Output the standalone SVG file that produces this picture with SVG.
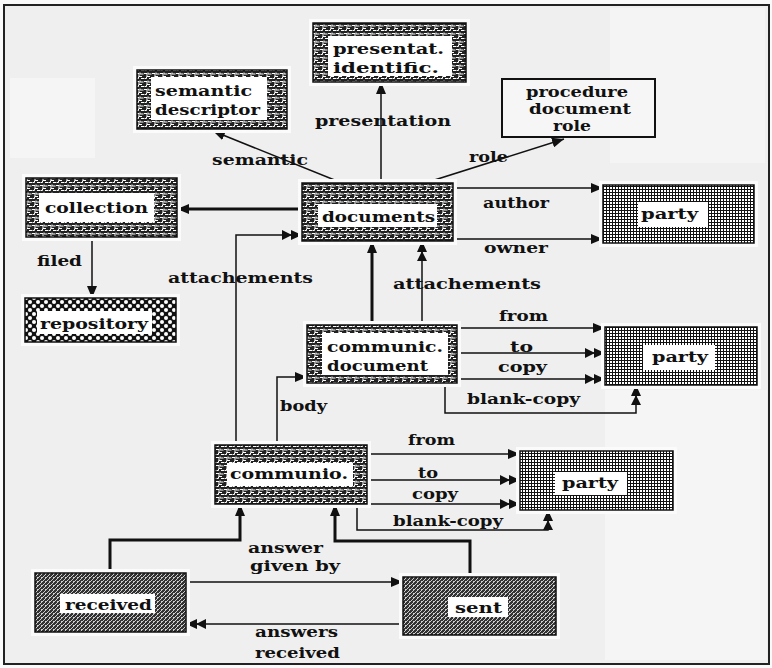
<svg xmlns="http://www.w3.org/2000/svg" width="772" height="668" viewBox="0 0 772 668">
  <style>
    .lbl { font-family: "DejaVu Serif", "Liberation Serif", serif; font-weight: bold; font-size: 15px; fill: #111; }
    .halo { fill: #fbfbfb; }
    .box { stroke: #111; stroke-width: 1.5; }
    .inner { fill: #fff; }
    .plain { fill: #f6f6f6; stroke: #111; stroke-width: 2; }
    .ln { fill: none; stroke: #111; stroke-width: 1.5; }
    .thick { fill: none; stroke: #111; stroke-width: 3; }
  </style>
  <defs>
    <!-- fret / maze texture -->
    <pattern id="maze" width="8" height="8" patternUnits="userSpaceOnUse">
      <rect width="8" height="8" fill="#222"/>
      <path d="M0 1.5h3v3h3M4 0.5v1.5h3.5M0.5 6.5h2v-2M5 6.5h3" stroke="#fff" stroke-width="1" fill="none"/>
    </pattern>
    <!-- mesh texture for party -->
    <pattern id="grid" width="3" height="3" patternUnits="userSpaceOnUse">
      <rect width="3" height="3" fill="#111"/>
      <rect x="1" y="1" width="2" height="2" fill="#fff"/>
    </pattern>
    <!-- dotted texture for repository -->
    <pattern id="dots" width="8" height="8" patternUnits="userSpaceOnUse">
      <rect width="8" height="8" fill="#111"/>
      <circle cx="2" cy="2" r="2" fill="#fff"/>
      <circle cx="6" cy="6" r="2" fill="#fff"/>
    </pattern>
    <!-- hatched texture for received / sent -->
    <pattern id="hatch" width="4" height="4" patternUnits="userSpaceOnUse">
      <rect width="4" height="4" fill="#333"/>
      <path d="M0 4L4 0M1 1.5h1" stroke="#e0e0e0" stroke-width="0.9"/>
    </pattern>
    <marker id="arr" viewBox="0 0 12 10" refX="12" refY="5" markerWidth="12" markerHeight="10" markerUnits="userSpaceOnUse" orient="auto">
      <path d="M0,0 L12,5 L0,10 z" fill="#111"/>
    </marker>
    <marker id="arr2" viewBox="0 0 20 10" refX="20" refY="5" markerWidth="20" markerHeight="10" markerUnits="userSpaceOnUse" orient="auto">
      <path d="M0,0 L10,5 L0,10 z M9,0 L20,5 L9,10 z" fill="#111"/>
    </marker>
  </defs>

  <!-- sheet and frame -->
  <rect width="772" height="668" fill="#fafafa"/>
  <rect x="4" y="5" width="765" height="659" fill="#efefef" stroke="#222" stroke-width="2"/>
  <rect x="610" y="8" width="155" height="155" fill="#f4f4f4"/>
  <rect x="605" y="390" width="162" height="270" fill="#f5f5f5"/>
  <rect x="10" y="78" width="85" height="80" fill="#f5f5f5"/>

  <g id="connectors">
    <path class="ln" d="M381,183 V82" marker-end="url(#arr)"/>
    <path class="ln" d="M342,183 L213,131" marker-end="url(#arr)"/>
    <path class="ln" d="M425,183 L564,139" marker-end="url(#arr)"/>
    <path class="thick" d="M302,209 H177" marker-end="url(#arr)"/>
    <path class="ln" d="M92,237 V298" marker-end="url(#arr)"/>
    <path class="ln" d="M453,188 H603" marker-end="url(#arr)"/>
    <path class="ln" d="M453,239 H603" marker-end="url(#arr)"/>
    <path class="thick" d="M372,325 V241" marker-end="url(#arr)"/>
    <path class="ln" d="M422,325 V241" marker-end="url(#arr2)"/>
    <path class="ln" d="M236,445 V235 H302" marker-end="url(#arr2)"/>
    <path class="ln" d="M277,445 V377 H307" marker-end="url(#arr)"/>
    <path class="ln" d="M457,328 H605" marker-end="url(#arr)"/>
    <path class="ln" d="M457,353 H605" marker-end="url(#arr2)"/>
    <path class="ln" d="M457,379 H605" marker-end="url(#arr2)"/>
    <path class="ln" d="M445,383 V413 H636 V385" marker-end="url(#arr2)"/>
    <path class="ln" d="M367,454 H520" marker-end="url(#arr)"/>
    <path class="ln" d="M367,480 H520" marker-end="url(#arr2)"/>
    <path class="ln" d="M367,504 H520" marker-end="url(#arr2)"/>
    <path class="ln" d="M357,504 V530 H548 V510" marker-end="url(#arr2)"/>
    <path class="thick" d="M110,573 V540 H240 V504" marker-end="url(#arr)"/>
    <path class="thick" d="M470,577 V541 H335 V504" marker-end="url(#arr)"/>
    <path class="ln" d="M186,582 H403" marker-end="url(#arr)"/>
    <path class="ln" d="M403,624 H186" marker-end="url(#arr2)"/>
  </g>

  <g id="connector-labels">
    <text class="lbl" x="315" y="126" textLength="136" lengthAdjust="spacingAndGlyphs">presentation</text>
    <text class="lbl" x="212" y="165" textLength="96" lengthAdjust="spacingAndGlyphs">semantic</text>
    <text class="lbl" x="469" y="162" textLength="39" lengthAdjust="spacingAndGlyphs">role</text>
    <text class="lbl" x="37" y="266" textLength="45" lengthAdjust="spacingAndGlyphs">filed</text>
    <text class="lbl" x="483" y="208" textLength="66" lengthAdjust="spacingAndGlyphs">author</text>
    <text class="lbl" x="484" y="253" textLength="64" lengthAdjust="spacingAndGlyphs">owner</text>
    <text class="lbl" x="168" y="283" textLength="145" lengthAdjust="spacingAndGlyphs">attachements</text>
    <text class="lbl" x="393" y="289" textLength="148" lengthAdjust="spacingAndGlyphs">attachements</text>
    <text class="lbl" x="499" y="321" textLength="49" lengthAdjust="spacingAndGlyphs">from</text>
    <text class="lbl" x="510" y="352" textLength="23" lengthAdjust="spacingAndGlyphs">to</text>
    <text class="lbl" x="498" y="372" textLength="49" lengthAdjust="spacingAndGlyphs">copy</text>
    <text class="lbl" x="467" y="404" textLength="113" lengthAdjust="spacingAndGlyphs">blank-copy</text>
    <text class="lbl" x="280" y="411" textLength="47" lengthAdjust="spacingAndGlyphs">body</text>
    <text class="lbl" x="408" y="445" textLength="47" lengthAdjust="spacingAndGlyphs">from</text>
    <text class="lbl" x="418" y="478" textLength="20" lengthAdjust="spacingAndGlyphs">to</text>
    <text class="lbl" x="412" y="499" textLength="46" lengthAdjust="spacingAndGlyphs">copy</text>
    <text class="lbl" x="393" y="526" textLength="110" lengthAdjust="spacingAndGlyphs">blank-copy</text>
    <text class="lbl" x="248" y="553" textLength="75" lengthAdjust="spacingAndGlyphs">answer</text>
    <text class="lbl" x="250" y="571" textLength="90" lengthAdjust="spacingAndGlyphs">given by</text>
    <text class="lbl" x="255" y="637" textLength="83" lengthAdjust="spacingAndGlyphs">answers</text>
    <text class="lbl" x="255" y="658" textLength="85" lengthAdjust="spacingAndGlyphs">received</text>
  </g>

  <g id="presentat-identific">
    <rect class="halo" x="309" y="19" width="161" height="67"/>
    <rect class="box" x="313" y="23" width="153" height="59" fill="url(#maze)"/>
    <rect class="inner" x="328" y="36" width="124" height="40"/>
    <text class="lbl" x="333" y="54" textLength="111" lengthAdjust="spacingAndGlyphs">presentat.</text>
    <text class="lbl" x="333" y="73" textLength="106" lengthAdjust="spacingAndGlyphs">identific.</text>
  </g>

  <g id="semantic-descriptor">
    <rect class="halo" x="133" y="66" width="158" height="67"/>
    <rect class="box" x="137" y="70" width="150" height="59" fill="url(#maze)"/>
    <rect class="inner" x="151" y="77" width="116" height="43"/>
    <text class="lbl" x="155" y="96" textLength="97" lengthAdjust="spacingAndGlyphs">semantic</text>
    <text class="lbl" x="155" y="115" textLength="105" lengthAdjust="spacingAndGlyphs">descriptor</text>
  </g>

  <g id="procedure-document-role">
    <rect class="plain" x="502" y="79" width="153" height="58"/>
    <text class="lbl" x="526" y="97" textLength="102" lengthAdjust="spacingAndGlyphs">procedure</text>
    <text class="lbl" x="529" y="114" textLength="102" lengthAdjust="spacingAndGlyphs">document</text>
    <text class="lbl" x="553" y="131" textLength="38" lengthAdjust="spacingAndGlyphs">role</text>
  </g>

  <g id="collection">
    <rect class="halo" x="22" y="174" width="159" height="67"/>
    <rect class="box" x="26" y="178" width="151" height="59" fill="url(#maze)"/>
    <rect class="inner" x="39" y="193" width="115" height="29"/>
    <text class="lbl" x="45" y="213" textLength="103" lengthAdjust="spacingAndGlyphs">collection</text>
  </g>

  <g id="repository">
    <rect class="halo" x="21" y="294" width="159" height="52"/>
    <rect class="box" x="25" y="298" width="151" height="44" fill="url(#dots)"/>
    <rect class="inner" x="37" y="311" width="115" height="23"/>
    <text class="lbl" x="40" y="329" textLength="108" lengthAdjust="spacingAndGlyphs">repository</text>
  </g>

  <g id="documents">
    <rect class="halo" x="298" y="179" width="159" height="66"/>
    <rect class="box" x="302" y="183" width="151" height="58" fill="url(#maze)"/>
    <rect class="inner" x="318" y="204" width="119" height="23"/>
    <text class="lbl" x="322" y="222" textLength="113" lengthAdjust="spacingAndGlyphs">documents</text>
  </g>

  <g id="party-1">
    <rect class="halo" x="599" y="181" width="159" height="66"/>
    <rect class="box" x="603" y="185" width="151" height="58" fill="url(#grid)"/>
    <rect class="inner" x="638" y="202" width="70" height="25"/>
    <text class="lbl" x="641" y="219" textLength="57" lengthAdjust="spacingAndGlyphs">party</text>
  </g>

  <g id="communic-document">
    <rect class="halo" x="303" y="321" width="158" height="66"/>
    <rect class="box" x="307" y="325" width="150" height="58" fill="url(#maze)"/>
    <rect class="inner" x="322" y="333" width="126" height="42"/>
    <text class="lbl" x="327" y="352" textLength="116" lengthAdjust="spacingAndGlyphs">communic.</text>
    <text class="lbl" x="327" y="371" textLength="101" lengthAdjust="spacingAndGlyphs">document</text>
  </g>

  <g id="party-2">
    <rect class="halo" x="601" y="323" width="160" height="66"/>
    <rect class="box" x="605" y="327" width="152" height="58" fill="url(#grid)"/>
    <rect class="inner" x="643" y="345" width="72" height="25"/>
    <text class="lbl" x="652" y="362" textLength="56" lengthAdjust="spacingAndGlyphs">party</text>
  </g>

  <g id="communio">
    <rect class="halo" x="211" y="441" width="160" height="67"/>
    <rect class="box" x="215" y="445" width="152" height="59" fill="url(#maze)"/>
    <rect class="inner" x="227" y="463" width="126" height="23"/>
    <text class="lbl" x="230" y="479" textLength="118" lengthAdjust="spacingAndGlyphs">communio.</text>
  </g>

  <g id="party-3">
    <rect class="halo" x="516" y="447" width="161" height="67"/>
    <rect class="box" x="520" y="451" width="153" height="59" fill="url(#grid)"/>
    <rect class="inner" x="555" y="472" width="72" height="23"/>
    <text class="lbl" x="562" y="488" textLength="56" lengthAdjust="spacingAndGlyphs">party</text>
  </g>

  <g id="received">
    <rect class="halo" x="31" y="569" width="159" height="67"/>
    <rect class="box" x="35" y="573" width="151" height="59" fill="url(#hatch)"/>
    <rect class="inner" x="60" y="594" width="95" height="19"/>
    <text class="lbl" x="65" y="610" textLength="87" lengthAdjust="spacingAndGlyphs">received</text>
  </g>

  <g id="sent">
    <rect class="halo" x="399" y="573" width="161" height="66"/>
    <rect class="box" x="403" y="577" width="153" height="58" fill="url(#hatch)"/>
    <rect class="inner" x="448" y="597" width="60" height="20"/>
    <text class="lbl" x="455" y="613" textLength="47" lengthAdjust="spacingAndGlyphs">sent</text>
  </g>
</svg>
